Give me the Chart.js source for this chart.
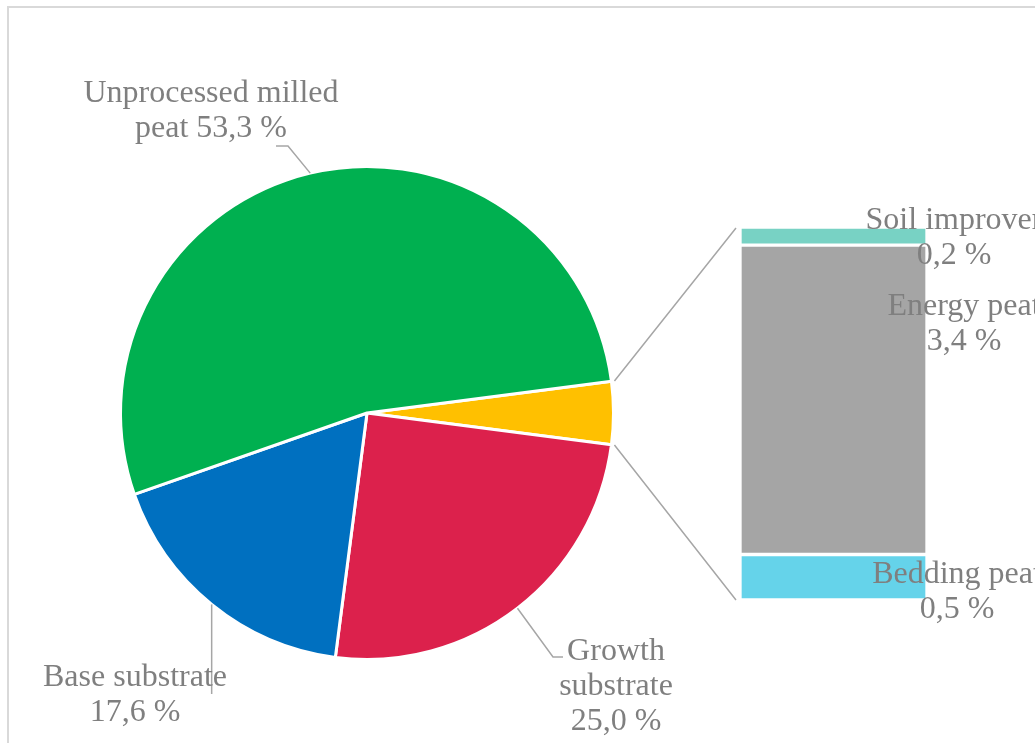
<!DOCTYPE html>
<html>
<head>
<meta charset="utf-8">
<script src="https://cdn.jsdelivr.net/npm/chart.js@4.4.1/dist/chart.umd.min.js"></script>
<style>
  html, body { margin: 0; padding: 0; background: #ffffff; }
  #wrap { position: relative; width: 1035px; height: 743px; overflow: hidden; }
  #frame { position: absolute; left: 7px; top: 6px; width: 1200px; height: 900px;
           border-left: 2px solid #d9d9d9; border-top: 2px solid #d9d9d9; }
  canvas { position: absolute; left: 0; top: 0; }
</style>
</head>
<body>
<div id="wrap">
  <div id="frame"></div>
  <canvas id="pie" width="1035" height="743"></canvas>
  <canvas id="bar" width="1035" height="743"></canvas>
</div>
<script>
// ---- data ----
const pieCategories = ['Unprocessed milled peat', 'Base substrate', 'Growth substrate'];
const pieValues = [53.3, 17.6, 25.0];
const pieColors = ['#00b050', '#0070c0', '#dc214c'];

const barCategories = ['Soil improver', 'Energy peat', 'Bedding peat'];
const barValues = [0.2, 3.4, 0.5];
const barColors = ['#78d2c4', '#a5a5a5', '#65d3ea'];

const otherColor = '#ffc000';

// text lines of the labels (the value line is added from the data)
const pieLabelLines = {
  'Unprocessed milled peat': ['Unprocessed milled', 'peat {v}'],
  'Base substrate': ['Base substrate', '{v}'],
  'Growth substrate': ['Growth', 'substrate', '{v}']
};
const barLabelLines = {
  'Soil improver': ['Soil improver', '{v}'],
  'Energy peat': ['Energy peat', '{v}'],
  'Bedding peat': ['Bedding peat', '{v}']
};

// ---- helpers ----
const fmt = v => v.toFixed(1).replace('.', ',') + ' %';
const otherValue = barValues.reduce((a, b) => a + b, 0);
const FONT = '32px "Liberation Serif", "Times New Roman", serif';
const TEXT = '#7f7f7f';
const LINE = '#a6a6a6';
const LH = 35;

// pie order clockwise from the right: other, growth, base, unprocessed
const pieOrder = ['Growth substrate', 'Base substrate', 'Unprocessed milled peat'];
const pieData = [otherValue].concat(pieOrder.map(c => pieValues[pieCategories.indexOf(c)]));
const pieBg = [otherColor].concat(pieOrder.map(c => pieColors[pieCategories.indexOf(c)]));
const pieLbl = ['Other'].concat(pieOrder);
const total = pieData.reduce((a, b) => a + b, 0);
const otherDeg = otherValue / total * 360;

// label placement relative to pie centre (layout only)
const pieLabelPos = {
  'Unprocessed milled peat': { dx: -156, dy: -319, leader: [[-79, -267], [-91, -267]] },
  'Base substrate':          { dx: -232, dy: 265,  leader: 'vertical', vEnd: 281 },
  'Growth substrate':        { dx: 249,  dy: 239,  leader: [[186, 244], [196, 244]] }
};
const barLabelPos = {
  'Soil improver': { dx: 27, ref: 'center', dy: 2 },
  'Energy peat':   { dx: 37, ref: 'top', dy: 79 },
  'Bedding peat':  { dx: 30, ref: 'bottom', dy: -8 }
};

function drawLines(ctx, x, y, lines) {
  ctx.save();
  ctx.font = FONT;
  ctx.fillStyle = TEXT;
  ctx.textAlign = 'center';
  ctx.textBaseline = 'middle';
  lines.forEach((t, i) => ctx.fillText(t, x, y + i * LH));
  ctx.restore();
}

const pieChart = new Chart(document.getElementById('pie'), {
  type: 'pie',
  data: {
    labels: pieLbl,
    datasets: [{
      data: pieData,
      backgroundColor: pieBg,
      borderColor: '#ffffff',
      borderWidth: 3
    }]
  },
  options: {
    responsive: false,
    animation: false,
    rotation: 90 - otherDeg / 2,
    layout: { padding: { left: 119, top: 165, right: 420, bottom: 82 } },
    plugins: { legend: { display: false }, tooltip: { enabled: false } }
  }
});

const overlay = {
  id: 'overlay',
  afterDraw(chart) {
    const ctx = chart.ctx;
    const pmeta = pieChart.getDatasetMeta(0);
    const arcs = pmeta.data;
    const cx = arcs[0].x, cy = arcs[0].y, R = arcs[0].outerRadius;

    // bar segments (datasets bottom -> top)
    const segs = {};
    chart.data.datasets.forEach((ds, i) => {
      segs[ds.label] = chart.getDatasetMeta(i).data[0];
    });
    const topSeg = segs[barCategories[0]];
    const botSeg = segs[barCategories[barCategories.length - 1]];
    const barLeft = topSeg.x - topSeg.width / 2;

    ctx.save();
    ctx.strokeStyle = LINE;
    ctx.lineWidth = 1.5;
    // connectors from the "other" slice to the bar
    const o = arcs[0];
    const r2 = R + 3;
    ctx.beginPath();
    ctx.moveTo(cx + r2 * Math.cos(o.startAngle), cy + r2 * Math.sin(o.startAngle));
    ctx.lineTo(barLeft - 4, topSeg.y + 1);
    ctx.moveTo(cx + r2 * Math.cos(o.endAngle), cy + r2 * Math.sin(o.endAngle));
    ctx.lineTo(barLeft - 4, botSeg.base);
    ctx.stroke();

    // pie leader lines + labels
    pieLbl.forEach((name, i) => {
      if (i === 0) return;
      const a = arcs[i];
      const mid = (a.startAngle + a.endAngle) / 2;
      const sx = cx + R * Math.cos(mid), sy = cy + R * Math.sin(mid);
      const pos = pieLabelPos[name];
      ctx.beginPath();
      ctx.moveTo(sx, sy);
      if (pos.leader === 'vertical') {
        ctx.lineTo(sx, cy + pos.vEnd);
      } else {
        pos.leader.forEach(p => ctx.lineTo(cx + p[0], cy + p[1]));
      }
      ctx.stroke();
      const v = pieValues[pieCategories.indexOf(name)];
      drawLines(ctx, cx + pos.dx, cy + pos.dy, pieLabelLines[name].map(t => t.replace('{v}', fmt(v))));
    });
    ctx.restore();

    // bar labels
    barCategories.forEach((name, i) => {
      const el = segs[name];
      const pos = barLabelPos[name];
      const right = el.x + el.width / 2;
      const top = Math.min(el.y, el.base), bot = Math.max(el.y, el.base);
      const lines = barLabelLines[name].map(t => t.replace('{v}', fmt(barValues[i])));
      const blockH = (lines.length - 1) * LH;
      const refY = pos.ref === 'top' ? top : (pos.ref === 'bottom' ? bot : (top + bot) / 2);
      drawLines(ctx, right + pos.dx, refY + pos.dy - blockH / 2, lines);
    });
  }
};

// stacked bar: bottom dataset first
const barDatasets = barCategories.slice().reverse().map(name => {
  const i = barCategories.indexOf(name);
  return {
    label: name,
    data: [barValues[i]],
    backgroundColor: barColors[i],
    borderColor: '#ffffff',
    borderWidth: 2,
    borderSkipped: false,
    barPercentage: 1,
    categoryPercentage: 1
  };
});

const barChart = new Chart(document.getElementById('bar'), {
  type: 'bar',
  data: { labels: ['Other'], datasets: barDatasets },
  options: {
    responsive: false,
    animation: false,
    layout: { padding: { left: 740, right: 108, top: 227, bottom: 143 } },
    scales: {
      x: { stacked: true, display: false },
      y: { stacked: true, display: false, min: 0, max: otherValue }
    },
    plugins: { legend: { display: false }, tooltip: { enabled: false } }
  },
  plugins: [overlay]
});
</script>
</body>
</html>
